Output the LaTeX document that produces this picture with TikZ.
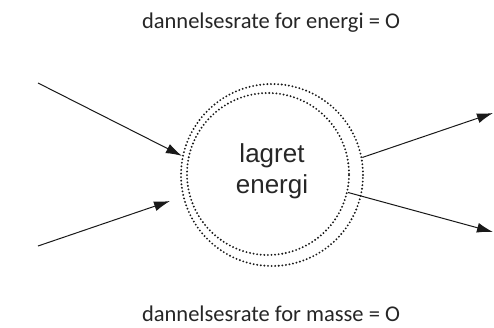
\documentclass[tikz,border=0pt]{standalone}
\usepackage{fontspec}
\setmainfont{Carlito}
\newfontfamily\arialfont{Liberation Sans}
\usepackage{tikz}
\usetikzlibrary{arrows.meta}

\tikzset{
   ring/.style={
      circle,
      draw=black!90,
      line width=2.1pt,
      line cap=round,
      dash pattern=on 0pt off 3.6pt,
      inner sep=0pt
   },
   flow/.style={
      draw=black!90,
      line width=1pt,
      -{Latex[length=16pt,width=10pt]}
   },
   caption/.style={
      anchor=base,
      inner sep=0pt,
      text=black!85,
      font=\fontsize{22.5}{27}\selectfont
   }
}

\begin{document}
\begin{tikzpicture}[x=1pt,y=-1pt]
   \useasboundingbox (0,0) rectangle (494,327);

   \node[ring, minimum size=182pt] (outer) at (272,175) {};
   \node[ring, minimum size=162pt] (inner) at (268,174) {};

   \node[
      align=center,
      text=black!85,
      font=\arialfont\fontsize{26}{31}\selectfont
   ] (store) at (272,171) {lagret\\energi};

   \node[caption] (energyrate) at (271,28) {dannelsesrate for energi = O};
   \node[caption] (massrate) at (271,321) {dannelsesrate for masse = O};

   % free ends of the flows
   \coordinate (inA) at (38,83);
   \coordinate (inB) at (38,246);
   \coordinate (tipB) at (170,201);
   \coordinate (outA) at (493,113);
   \coordinate (outB) at (493,232);

   \draw[flow] (inA) -- (outer.168);
   \draw[flow] (inB) -- (tipB);
   \draw[flow] (outer.11) -- (outA);
   \draw[flow] (inner.347) -- (outB);

\end{tikzpicture}
\end{document}
